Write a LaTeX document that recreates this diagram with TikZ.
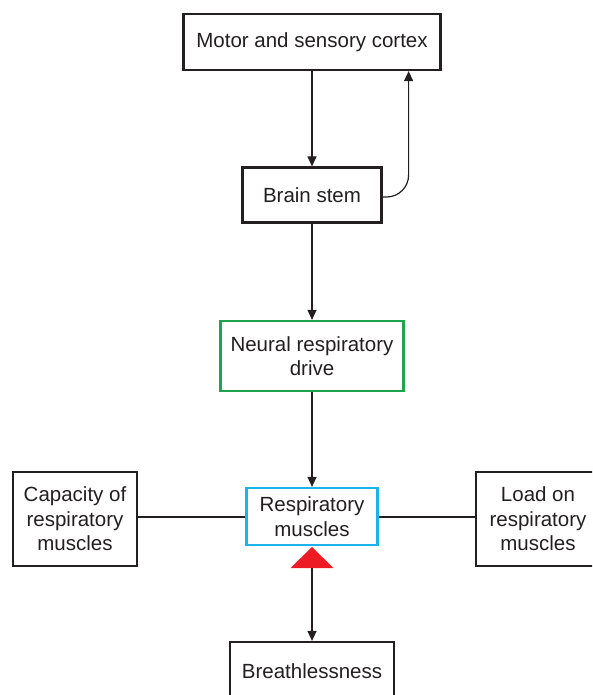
\documentclass[tikz,border=0pt]{standalone}
\usepackage{fontspec}
\setmainfont{Liberation Sans}
\usetikzlibrary{arrows.meta}
\definecolor{ink}{HTML}{231F20}
\definecolor{drivegreen}{HTML}{1FA54F}
\definecolor{musclecyan}{HTML}{1CB2EC}
\definecolor{alertred}{HTML}{ED1C24}
\tikzset{
  box/.style={draw=ink, line width=2.2pt, align=center, inner sep=0pt,
    text=ink, font=\fontsize{20.5}{24.5}\selectfont},
  link/.style={draw=ink, line width=1.2pt},
  sidelink/.style={draw=ink, line width=2pt},
  tip/.style={-{Triangle[length=10pt,width=9pt]}},
}
\begin{document}
\begin{tikzpicture}[x=1pt, y=-1pt]
  \useasboundingbox (0,0) rectangle (592,695);
  \clip (0,0) rectangle (592,695);

  % boxes
  \node[box, minimum width=257pt, minimum height=56pt] (cortex) at (312,42) {Motor and sensory cortex};
  \node[box, minimum width=139pt, minimum height=55pt] (brain) at (312,195) {Brain stem};
  \node[box, draw=drivegreen, minimum width=183pt, minimum height=70pt] (drive) at (312,356) {Neural respiratory\\drive};
  \node[box, draw=musclecyan, minimum width=131pt, minimum height=57pt] (muscles) at (312,516.5) {Respiratory\\muscles};
  \node[box, minimum width=124pt, minimum height=94pt] (capacity) at (75,519) {Capacity of\\respiratory\\muscles};
  \node[box, minimum width=124pt, minimum height=94pt] (load) at (538,519) {Load on\\respiratory\\muscles};
  \node[box, minimum width=164pt, minimum height=58pt] (breath) at (312,671) {Breathlessness};

  % vertical chain
  \draw[link, tip] (cortex.south) -- (brain.north);
  \draw[link, tip] (brain.south) -- (drive.north);
  \draw[link, tip] (drive.south) -- (muscles.north);

  % feedback from brain stem back up to the cortex
  \coordinate (fbtop) at ([xshift=-33pt]cortex.south east);
  \draw[link, tip, rounded corners=22pt] ([yshift=-2pt]brain.east) -| (fbtop);

  % side influences
  \draw[sidelink] (capacity.east |- muscles.west) -- (muscles.west);
  \draw[sidelink] (muscles.east) -- (load.west |- muscles.east);

  % red marker under the respiratory muscles, linked to breathlessness
  \coordinate (markertip) at (312,547);
  \coordinate (markerbase) at (312,568);
  \fill[alertred] (markertip) -- ([xshift=21.5pt]markerbase) -- ([xshift=-21.5pt]markerbase) -- cycle;
  \draw[link, tip] (markerbase) -- (breath.north);
\end{tikzpicture}
\end{document}
